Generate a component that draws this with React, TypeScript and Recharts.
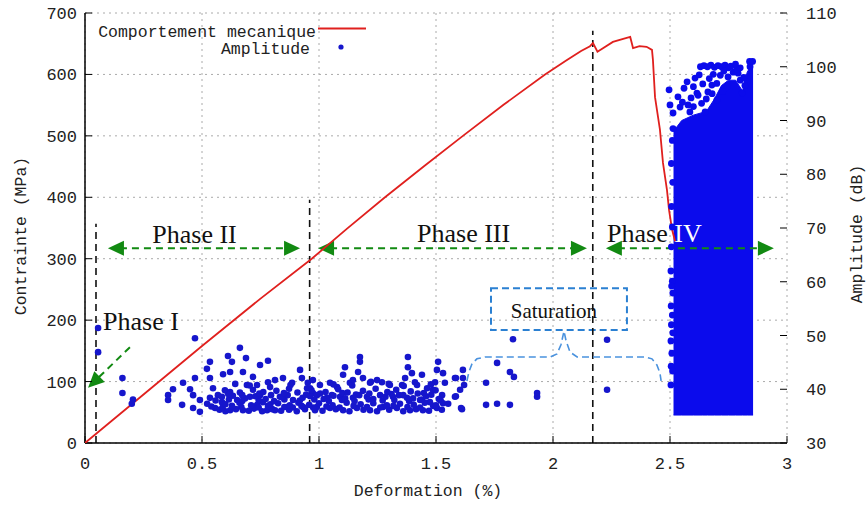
import React from "react";
import {
  Area,
  CartesianGrid,
  ComposedChart,
  Legend,
  ReferenceArea,
  ReferenceDot,
  ReferenceLine,
  Scatter,
  XAxis,
  YAxis,
} from "recharts";

const strainTicks = [0, 0.5, 1, 1.5, 2, 2.5, 3];
const stressTicks = [0, 100, 200, 300, 400, 500, 600, 700];
const amplitudeTicks = [30, 40, 50, 60, 70, 80, 90, 100, 110];

// comportement mecanique : [deformation %, contrainte MPa]
// (la suite de la courbe passe sous le nuage de la phase IV)
const stressCurve: [number, number][] = [
  [0, 0], [0.25, 79], [0.5, 158], [0.75, 235], [0.969, 300], [1.12, 349],
  [1.282, 400], [1.45, 451], [1.615, 500], [1.79, 551], [1.966, 600], [2.058, 623],
  [2.12, 638], [2.158, 646], [2.171, 651], [2.19, 637], [2.256, 653], [2.3, 658],
  [2.33, 661], [2.342, 643], [2.37, 646], [2.4, 645], [2.423, 640], [2.427, 624],
  [2.436, 563], [2.457, 510], [2.47, 456], [2.487, 412], [2.496, 379], [2.509, 347],
  [2.522, 328],
];

// amplitude des salves, phases I a III : [deformation %, amplitude dB]
const hitsEarly: [number, number][] = [
  [0.056, 51.4], [0.056, 46.9], [0.16, 42.1], [0.16, 39.3], [0.205, 38.1], [0.2, 37.3],
  [0.47, 49.5], [0.662, 47.7], [0.611, 46.2], [0.628, 45.1], [0.534, 45.1], [0.782, 45.3],
  [0.748, 44.5], [0.688, 45.8], [0.521, 43.8], [0.59, 42.8], [0.62, 43.2], [0.675, 43.2],
  [0.718, 42.3], [0.47, 42.1], [0.534, 42.1], [0.419, 41.2], [0.376, 40.0], [0.355, 38.9],
  [0.355, 38.0], [0.415, 37.1], [0.449, 40.0], [0.462, 38.9], [0.491, 38.0], [0.491, 35.8],
  [0.462, 36.5], [0.547, 40.2], [0.568, 38.9], [0.585, 37.6], [0.62, 39.5], [0.65, 38.0],
  [0.62, 36.1], [0.675, 36.1], [0.692, 40.8], [0.735, 40.8], [0.748, 38.9], [0.791, 40.4],
  [0.812, 41.7], [0.846, 42.1], [0.885, 41.2], [0.919, 43.6], [0.927, 42.1], [0.949, 40.2],
  [0.833, 38.6], [0.863, 36.7], [0.778, 36.1], [0.735, 37.1], [0.889, 38.0], [0.932, 36.7],
  [0.974, 39.3], [0.983, 36.1], [0.812, 36.1], [0.705, 38.6], [0.534, 38.4], [0.556, 36.5],
  [1.175, 46.0], [1.175, 45.1], [1.38, 46.0], [1.38, 44.1], [1.509, 45.1], [1.504, 43.6],
  [1.111, 44.1], [1.103, 42.7], [1.167, 43.2], [1.188, 42.1], [1.397, 43.0], [1.44, 42.7],
  [1.53, 43.0], [1.538, 41.2], [1.496, 41.3], [1.615, 43.6], [1.615, 42.1], [1.581, 42.1],
  [1.603, 39.9], [1.581, 38.6], [1.611, 36.3], [0.974, 41.7], [1.004, 40.8], [1.047, 41.2],
  [1.077, 40.4], [1.132, 41.2], [1.145, 41.7], [1.218, 41.2], [1.248, 41.7], [1.269, 41.3],
  [1.303, 40.8], [1.355, 40.8], [1.368, 42.1], [1.419, 40.8], [1.462, 40.2], [1.487, 39.9],
  [1.526, 38.9], [1.53, 37.4], [1.504, 36.5], [1.444, 36.1], [1.389, 36.1], [1.333, 36.5],
  [1.274, 36.7], [1.218, 36.1], [1.162, 36.5], [1.103, 36.1], [1.047, 36.5], [0.991, 36.7],
  [1.034, 38.4], [1.09, 38.6], [1.145, 38.4], [1.205, 38.6], [1.261, 38.9], [1.316, 38.6],
  [1.376, 38.4], [1.432, 38.0], [1.474, 37.6], [0.991, 38.9], [0.962, 40.2],
  [0.575, 36.2], [0.6, 35.9], [0.645, 36.3], [0.7, 36.0], [0.722, 36.4], [0.757, 35.9],
  [0.8, 36.3], [0.838, 36.0], [0.872, 36.2], [0.905, 35.9], [0.94, 36.3], [1.015, 36.0],
  [1.072, 36.3], [1.13, 35.9], [1.19, 36.2], [1.248, 35.9], [1.3, 36.2], [1.36, 35.9],
  [1.415, 36.3], [1.47, 36.0], [1.525, 36.2],
  [0.54, 36.8], [0.588, 36.6], [0.628, 36.9], [0.668, 36.7], [0.742, 36.6], [0.782, 36.9],
  [0.852, 36.7], [0.888, 36.6], [0.925, 36.9], [0.975, 36.6], [1.032, 36.8], [1.088, 36.6],
  [1.148, 36.9], [1.205, 36.7], [1.262, 36.6], [1.318, 36.9], [1.378, 36.7], [1.432, 36.6],
  [1.488, 36.9],
  [0.522, 37.3], [0.6, 37.2], [0.66, 37.5], [0.71, 37.0], [0.76, 37.6], [0.792, 37.2],
  [0.825, 37.4], [0.875, 37.0], [0.912, 37.5], [0.958, 37.1], [1.0, 37.4], [1.058, 37.0],
  [1.118, 37.5], [1.178, 37.2], [1.232, 37.4], [1.29, 37.0], [1.346, 37.3], [1.405, 37.1],
  [1.452, 37.5], [1.5, 37.0], [1.552, 37.3],
  [0.558, 37.9], [0.615, 38.1], [0.672, 37.8], [0.742, 38.0], [0.808, 37.8], [0.852, 38.1],
  [0.918, 37.9], [0.98, 38.1], [1.042, 37.8], [1.098, 38.0], [1.152, 37.8], [1.212, 38.1],
  [1.272, 37.9], [1.322, 38.0], [1.385, 37.8], [1.44, 38.1], [1.52, 37.9],
  [0.585, 38.6], [0.632, 38.8], [0.684, 38.3], [0.728, 38.7], [0.772, 38.2], [0.842, 38.5],
  [0.866, 38.9], [0.93, 38.4], [0.962, 38.7], [1.02, 38.2], [1.062, 38.8], [1.112, 38.3],
  [1.172, 38.9], [1.232, 38.2], [1.284, 38.6], [1.342, 38.9], [1.402, 38.3], [1.458, 38.7],
  [1.512, 38.2],
  [0.612, 39.1], [0.672, 38.9], [0.745, 39.2], [0.795, 38.9], [0.85, 39.3], [0.945, 39.0],
  [1.005, 39.2], [1.055, 38.9], [1.1, 39.3], [1.158, 39.0], [1.215, 39.2], [1.31, 39.1],
  [1.36, 38.9], [1.422, 39.2], [1.48, 39.0],
  [0.598, 39.8], [0.662, 39.4], [0.718, 39.9], [0.762, 39.5], [0.818, 39.7], [0.872, 40.1],
  [0.908, 39.4], [0.968, 39.8], [1.028, 39.5], [1.082, 40.0], [1.122, 39.4], [1.188, 39.7],
  [1.242, 40.1], [1.292, 39.5], [1.33, 39.9], [1.392, 39.6], [1.448, 39.3], [1.498, 39.8],
  [0.642, 41.0], [0.704, 40.7], [0.782, 41.3], [0.878, 40.8], [0.952, 41.2], [1.062, 40.9],
  [1.142, 40.7], [1.222, 41.4], [1.298, 41.0], [1.362, 40.6], [1.41, 41.3], [1.478, 40.9],
  [1.62, 40.8], [1.607, 36.5], [1.585, 42.1], [1.585, 38.7],
  [1.714, 41.2], [1.714, 37.1], [1.761, 37.3], [1.816, 37.1], [1.761, 44.9], [1.816, 43.2],
  [1.833, 42.3], [1.829, 49.3], [1.932, 39.3], [1.932, 38.6], [2.231, 49.2], [2.231, 39.9],
];

// salves isolees autour de la rupture (phase IV)
const hitsRupture: [number, number][] = [
  [2.504, 62.0], [2.51, 60.1], [2.507, 59.2], [2.512, 57.9], [2.505, 55.5], [2.51, 53.8],
  [2.506, 52.0], [2.512, 50.5], [2.504, 49.0], [2.508, 46.7], [2.505, 44.3], [2.511, 43.4],
  [2.504, 40.8], [2.506, 66.5], [2.51, 70.2], [2.507, 74.0], [2.512, 78.5], [2.506, 82.0],
  [2.51, 86.3], [2.513, 88.5],
  [2.496, 95.7], [2.5, 92.9], [2.534, 94.4], [2.573, 97.2], [2.607, 97.9], [2.577, 92.9],
  [2.615, 95.1], [2.62, 94.7], [2.662, 95.3], [2.679, 96.6], [2.748, 98.1], [2.791, 98.8],
  [2.808, 95.1], [2.829, 97.2], [2.842, 100.0], [2.543, 92.5], [2.585, 91.6], [2.65, 91.6],
  [2.513, 91.4], [2.553, 93.4], [2.6, 92.6], [2.7, 93.8],
  [2.63, 100.0], [2.645, 100.2], [2.66, 100.0], [2.675, 100.3], [2.69, 99.9], [2.705, 100.2],
  [2.72, 100.0], [2.735, 100.3], [2.75, 99.8], [2.76, 100.1],
  [2.6, 96.3], [2.625, 98.5], [2.64, 96.8], [2.655, 94.0], [2.668, 97.8], [2.685, 98.6],
  [2.7, 96.9], [2.715, 98.4], [2.73, 99.2], [2.745, 96.3], [2.77, 99.0], [2.785, 99.5],
  [2.8, 97.5], [2.815, 98.0], [2.82, 96.5], [2.8, 99.8], [2.78, 100.5], [2.84, 101.0],
  [2.853, 101.0], [2.56, 96.0], [2.59, 94.2], [2.635, 93.2], [2.68, 95.0], [2.725, 95.4],
];

// nuage dense de la phase IV : [deformation %, amplitude min, amplitude max]
const ruptureBand: [number, number, number][] = [
  [2.515, 35.2, 88], [2.55, 35.2, 90], [2.6, 35.2, 91], [2.64, 35.2, 91.5],
  [2.66, 35.2, 92], [2.69, 35.2, 94], [2.72, 35.2, 96.5], [2.75, 35.2, 97.5],
  [2.78, 35.2, 97.5], [2.81, 35.2, 95.5], [2.83, 35.2, 99], [2.855, 35.2, 100.8],
];

// annotations, en coordonnees (deformation %, contrainte MPa)
const phaseLimits = [
  { x: 0.047, top: 357 },
  { x: 0.96, top: 396 },
  { x: 2.17, top: 671 },
];
const phaseSpans = [
  { from: 0.098, to: 0.919, y: 317 },
  { from: 0.996, to: 2.145, y: 317 },
  { from: 2.226, to: 2.944, y: 317 },
];
const phaseOnePointer = { from: [0.192, 156], to: [0.013, 90] };
const saturationBox = { x1: 1.735, x2: 2.316, y1: 184, y2: 252 };
const braceOutline: [number, number][] = [
  [1.632, 101], [1.641, 116], [1.654, 129], [1.675, 137], [1.709, 140], [1.987, 140],
  [2.017, 145], [2.034, 160], [2.047, 182], [2.056, 166], [2.073, 148], [2.103, 140],
  [2.393, 140], [2.423, 137], [2.444, 127], [2.457, 114], [2.462, 101],
];

const RED = "#e0201e";
const DOT = "#1616cc";
const BLOCK = "#0b0bec";
const GREEN = "#128a12";
const SKY = "#2b80d2";
const MONO = "Liberation Mono, monospace";
const SERIF = "Liberation Serif, Times New Roman, serif";

const toXY = (rows: [number, number][]) => rows.map(([x, y]) => ({ x, y }));
const stressPoints = toXY(stressCurve);
const earlyPoints = toXY(hitsEarly);
const rupturePoints = toXY(hitsRupture);
const bracePoints = toXY(braceOutline);
const bandRows = ruptureBand.map(([x, lo, hi]) => ({ x, band: [lo, hi] }));

const tickStyle = { fontFamily: MONO, fontSize: 17, fill: "#222" };

function NoDot() {
  return <g />;
}

function HitDot(props: any) {
  return <circle cx={props.cx} cy={props.cy} r={3.3} fill={DOT} />;
}

function RuptureDot(props: any) {
  return <circle cx={props.cx} cy={props.cy} r={3.4} fill={BLOCK} />;
}

function head(tx: number, ty: number, fx: number, fy: number) {
  const len = Math.hypot(tx - fx, ty - fy) || 1;
  const ux = (tx - fx) / len;
  const uy = (ty - fy) / len;
  const bx = tx - ux * 16;
  const by = ty - uy * 16;
  return `${tx},${ty} ${bx - uy * 7.5},${by + ux * 7.5} ${bx + uy * 7.5},${by - ux * 7.5}`;
}

function DoubleArrow(props: any) {
  const { x1, y1, x2, y2 } = props;
  return (
    <g>
      <line x1={x1 + 12} y1={y1} x2={x2 - 12} y2={y2} stroke={GREEN} strokeWidth={2} strokeDasharray="7 5" />
      <polygon points={head(x1, y1, x2, y2)} fill={GREEN} />
      <polygon points={head(x2, y2, x1, y1)} fill={GREEN} />
    </g>
  );
}

function SingleArrow(props: any) {
  const { x1, y1, x2, y2 } = props;
  const len = Math.hypot(x2 - x1, y2 - y1) || 1;
  const ex = x2 - ((x2 - x1) / len) * 12;
  const ey = y2 - ((y2 - y1) / len) * 12;
  return (
    <g>
      <line x1={x1} y1={y1} x2={ex} y2={ey} stroke={GREEN} strokeWidth={2} strokeDasharray="7 5" />
      <polygon points={head(x2, y2, x1, y1)} fill={GREEN} />
    </g>
  );
}

const phaseText = (text: string, anchor: "start" | "middle", tail?: string) =>
  function PhaseText(props: any) {
    return (
      <text x={props.cx} y={props.cy} textAnchor={anchor} fontFamily={SERIF} fontSize={26} fill="#111">
        {text}
        {tail ? <tspan fill="#fff">{tail}</tspan> : null}
      </text>
    );
  };

function SaturationText(props: any) {
  return (
    <text x={props.cx} y={props.cy} textAnchor="middle" fontFamily={SERIF} fontSize={21} fill="#111">
      Saturation
    </text>
  );
}

function LegendBox() {
  return (
    <svg width={300} height={46} style={{ display: "block" }}>
      <text x={226} y={19.5} textAnchor="end" fontFamily={MONO} fontSize={16.5} fill="#222">
        Comportement mecanique
      </text>
      <line x1={228} x2={276} y1={11.5} y2={11.5} stroke={RED} strokeWidth={1.8} />
      <text x={220} y={37} textAnchor="end" fontFamily={MONO} fontSize={16.5} fill="#222">
        Amplitude
      </text>
      <circle cx={251} cy={30} r={2.6} fill={DOT} />
    </svg>
  );
}

function title(text: string, dx: (vb: any) => number, dy: (vb: any) => number, rotate: boolean) {
  return function AxisTitle(props: any) {
    const vb = props.viewBox || { x: 0, y: 0, width: 0, height: 0 };
    const x = vb.x + dx(vb);
    const y = vb.y + dy(vb);
    return (
      <text
        x={x}
        y={y}
        textAnchor="middle"
        dominantBaseline="central"
        transform={rotate ? `rotate(-90, ${x}, ${y})` : undefined}
        fontFamily={MONO}
        fontSize={16.5}
        fill="#222"
      >
        {text}
      </text>
    );
  };
}

export default function App() {
  return (
    <div style={{ position: "absolute", left: 0, top: 0 }}>
      <ComposedChart width={868} height={506} data={bandRows} margin={{ top: 13, right: 0, bottom: 0, left: 0 }}>
        <CartesianGrid yAxisId="left" stroke="#aaa" strokeDasharray="2 4" />
        <XAxis
          dataKey="x"
          type="number"
          domain={[0, 3]}
          ticks={strainTicks}
          allowDataOverflow
          height={63}
          tick={tickStyle}
          tickSize={-7}
          tickMargin={21}
          tickLine={{ stroke: "#000" }}
          axisLine={{ stroke: "#000", strokeWidth: 1.5 }}
          label={{ content: title("Deformation (%)", (vb) => vb.width / 2 - 8, () => 48, false) as any }}
        />
        <XAxis
          xAxisId="top"
          orientation="top"
          dataKey="x"
          type="number"
          domain={[0, 3]}
          ticks={strainTicks}
          allowDataOverflow
          height={0}
          tick={false}
          tickSize={-7}
          tickLine={{ stroke: "#000" }}
          axisLine={{ stroke: "#000", strokeWidth: 1.5 }}
        />
        <YAxis
          yAxisId="left"
          type="number"
          domain={[0, 700]}
          ticks={stressTicks}
          allowDataOverflow
          width={85}
          tick={tickStyle}
          tickSize={-7}
          tickMargin={15}
          tickLine={{ stroke: "#000" }}
          axisLine={{ stroke: "#000", strokeWidth: 1.5 }}
          label={{ content: title("Contrainte (MPa)", () => 21, (vb) => vb.height / 2 + 8, true) as any }}
        />
        <YAxis
          yAxisId="mirror"
          orientation="right"
          type="number"
          domain={[0, 700]}
          ticks={stressTicks}
          allowDataOverflow
          width={0}
          tick={false}
          tickSize={-7}
          tickLine={{ stroke: "#000" }}
          axisLine={{ stroke: "#000", strokeWidth: 1.5 }}
        />
        <YAxis
          yAxisId="amp"
          orientation="right"
          type="number"
          domain={[30, 110]}
          ticks={amplitudeTicks}
          allowDataOverflow
          width={81}
          tick={tickStyle}
          tickSize={-7}
          tickMargin={26}
          tickLine={{ stroke: "#000" }}
          axisLine={false}
          label={{ content: title("Amplitude (dB)", () => 70, (vb) => vb.height / 2 + 6, true) as any }}
        />

        <Scatter
          name="Comportement mecanique"
          data={stressPoints}
          dataKey="y"
          yAxisId="left"
          line={{ stroke: RED, strokeWidth: 1.8 }}
          lineType="joint"
          shape={NoDot}
          isAnimationActive={false}
        />
        <Scatter name="Amplitude" data={earlyPoints} dataKey="y" yAxisId="amp" shape={HitDot} isAnimationActive={false} />
        <Area
          dataKey="band"
          yAxisId="amp"
          type="linear"
          stroke={BLOCK}
          strokeWidth={1}
          fill={BLOCK}
          fillOpacity={1}
          dot={false}
          activeDot={false}
          isAnimationActive={false}
        />
        <Scatter data={rupturePoints} dataKey="y" yAxisId="amp" shape={RuptureDot} isAnimationActive={false} />

        {phaseLimits.map((p) => (
          <ReferenceLine
            key={p.x}
            yAxisId="left"
            segment={[{ x: p.x, y: 0 }, { x: p.x, y: p.top }]}
            stroke="#111"
            strokeWidth={1.6}
            strokeDasharray="7 5"
          />
        ))}
        {phaseSpans.map((s) => (
          <ReferenceLine
            key={s.from}
            yAxisId="left"
            segment={[{ x: s.from, y: s.y }, { x: s.to, y: s.y }]}
            shape={DoubleArrow}
          />
        ))}
        <ReferenceLine
          yAxisId="left"
          segment={[
            { x: phaseOnePointer.from[0], y: phaseOnePointer.from[1] },
            { x: phaseOnePointer.to[0], y: phaseOnePointer.to[1] },
          ]}
          shape={SingleArrow}
        />

        <ReferenceDot yAxisId="left" x={0.077} y={184} shape={phaseText("Phase I", "start")} />
        <ReferenceDot yAxisId="left" x={0.468} y={326} shape={phaseText("Phase II", "middle")} />
        <ReferenceDot yAxisId="left" x={1.618} y={327} shape={phaseText("Phase III", "middle")} />
        <ReferenceDot yAxisId="left" x={2.231} y={327} shape={phaseText("Phase ", "start", "IV")} />

        <ReferenceArea
          yAxisId="left"
          x1={saturationBox.x1}
          x2={saturationBox.x2}
          y1={saturationBox.y1}
          y2={saturationBox.y2}
          fill="none"
          fillOpacity={0}
          stroke={SKY}
          strokeWidth={2}
          strokeDasharray="7 4"
        />
        <ReferenceDot yAxisId="left" x={2.004} y={203} shape={SaturationText} />
        <Scatter
          data={bracePoints}
          dataKey="y"
          yAxisId="left"
          line={{ stroke: "#4a92de", strokeWidth: 1.6, strokeDasharray: "7 4" }}
          lineType="joint"
          shape={NoDot}
          isAnimationActive={false}
        />

        <Legend
          layout="horizontal"
          verticalAlign="middle"
          align="center"
          content={LegendBox}
          wrapperStyle={{ left: 90, top: 17, width: 300, height: 46 }}
        />
      </ComposedChart>
    </div>
  );
}
